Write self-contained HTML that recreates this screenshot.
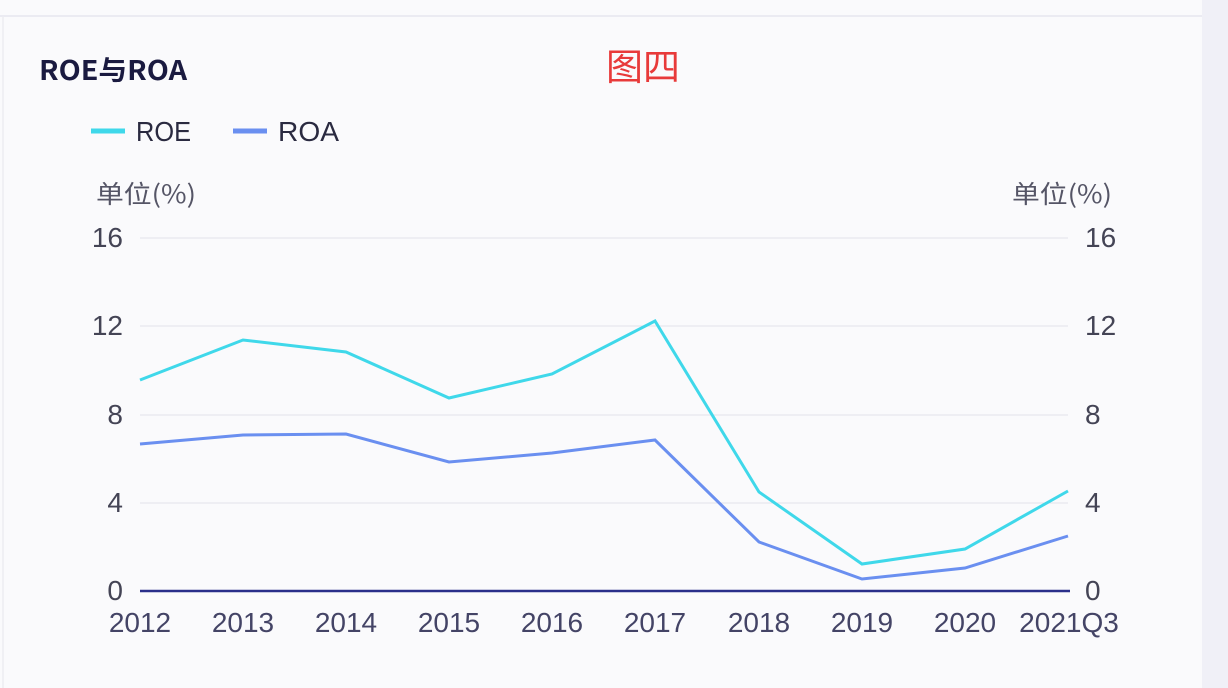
<!DOCTYPE html>
<html><head><meta charset="utf-8"><style>
html,body{margin:0;padding:0;width:1228px;height:688px;overflow:hidden;background:#f9f9fc;}
svg{display:block}
text{font-family:"Liberation Sans","Noto Sans CJK SC",sans-serif;}
</style></head><body>
<svg width="1228" height="688" viewBox="0 0 1228 688">
<rect x="0" y="0" width="1228" height="688" fill="#fafafc"/>
<rect x="1202" y="0" width="26" height="688" fill="#f0f0f7"/>
<line x1="0" y1="16" x2="1202" y2="16" stroke="#e6e6ee" stroke-width="1.5"/>
<line x1="3" y1="16" x2="3" y2="688" stroke="#ececf2" stroke-width="1.5"/>
<text x="39" y="80" font-size="27" font-weight="bold" fill="#1a1a40" style="font-family:'Noto Sans CJK SC',sans-serif" textLength="148" lengthAdjust="spacingAndGlyphs">ROE与ROA</text>
<text x="606" y="80" font-size="37" fill="#e83a3a" style="font-family:'Noto Sans CJK SC',sans-serif">图四</text>
<line x1="91" y1="131" x2="125" y2="131" stroke="#3fd8ea" stroke-width="5"/>
<text x="136" y="141" font-size="28" fill="#2a2a40" textLength="55" lengthAdjust="spacingAndGlyphs">ROE</text>
<line x1="233" y1="131" x2="267" y2="131" stroke="#6a8ff0" stroke-width="5"/>
<text x="278" y="141" font-size="28" fill="#2a2a40" textLength="61" lengthAdjust="spacingAndGlyphs">ROA</text>
<text x="96" y="203" font-size="25" fill="#555566" style="font-family:'Noto Sans CJK SC',sans-serif" textLength="100" lengthAdjust="spacingAndGlyphs">单位(%)</text>
<text x="1012" y="203" font-size="25" fill="#555566" style="font-family:'Noto Sans CJK SC',sans-serif" textLength="100" lengthAdjust="spacingAndGlyphs">单位(%)</text>
<g stroke="#e2e2ea" stroke-width="1">
<line x1="140" y1="238" x2="1068" y2="238"/>
<line x1="140" y1="326" x2="1068" y2="326"/>
<line x1="140" y1="415" x2="1068" y2="415"/>
<line x1="140" y1="503" x2="1068" y2="503"/>
</g>
<line x1="140" y1="591" x2="1070" y2="591" stroke="#2a2f8a" stroke-width="2.5"/>
<g font-size="28" fill="#444455" text-anchor="end">
<text x="123" y="247">16</text><text x="123" y="335">12</text><text x="123" y="424">8</text><text x="123" y="512">4</text><text x="123" y="600">0</text>
</g>
<g font-size="28" fill="#444455" text-anchor="start">
<text x="1085" y="247">16</text><text x="1085" y="335">12</text><text x="1085" y="424">8</text><text x="1085" y="512">4</text><text x="1085" y="600">0</text>
</g>
<g font-size="28" fill="#444466" text-anchor="middle">
<text x="140" y="632">2012</text><text x="243" y="632">2013</text><text x="346" y="632">2014</text><text x="449" y="632">2015</text><text x="552" y="632">2016</text><text x="655" y="632">2017</text><text x="759" y="632">2018</text><text x="862" y="632">2019</text><text x="965" y="632">2020</text><text x="1069" y="632">2021Q3</text>
</g>
<polyline fill="none" stroke="#3fd8ea" stroke-width="3" points="140,380 243,340 346,352 449,398 552,374 655,321 759,492 862,564 965,549 1068,491"/>
<polyline fill="none" stroke="#6a8ff0" stroke-width="3" points="140,444 243,435 346,434 449,462 552,453 655,440 759,542 862,579 965,568 1068,536"/>
</svg>
</body></html>
